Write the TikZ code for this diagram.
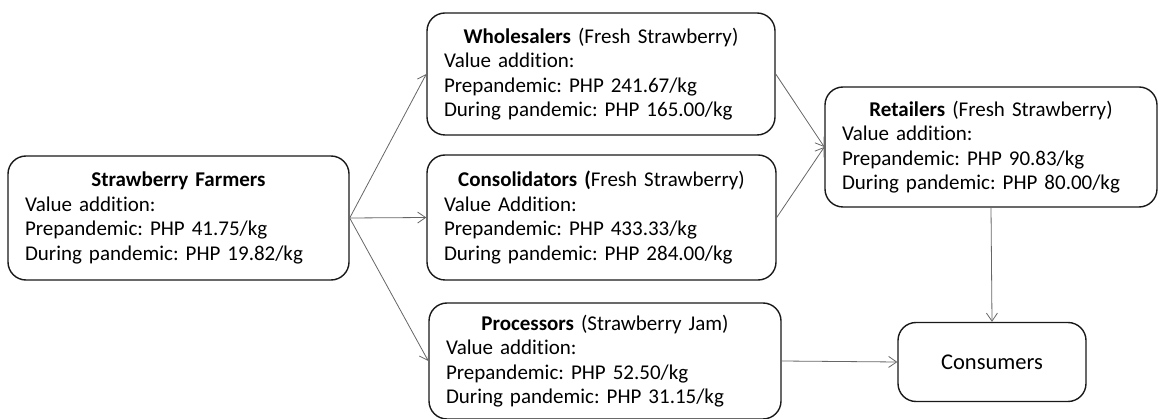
\documentclass[tikz,border=0pt]{standalone}
\usepackage{fontspec}
\setmainfont{Carlito}[Ligatures=NoCommon]
\usetikzlibrary{arrows.meta}
\frenchspacing
\newcommand{\ttl}[1]{\makebox[\linewidth][c]{#1}\\}
\begin{document}
\begin{tikzpicture}[x=1pt,y=-1pt,
  box/.style={draw=black!90, line width=1.4pt, rounded corners=18pt,
    align=left, inner xsep=17pt, inner ysep=0pt,
    font=\fontsize{21}{24.5}\selectfont},
  flow/.style={draw=black!60, line width=0.8pt,
    -{Straight Barb[length=8pt,width=11pt]}}]
\useasboundingbox (0,0) rectangle (1159,419);

% actors of the chain
\node[box, text width=307pt, minimum height=124pt] (farm) at (178.5,218)
  {\ttl{\textbf{Strawberry Farmers}}Value addition:\\Prepandemic: PHP 41.75/kg\\During pandemic: PHP 19.82/kg};
\node[box, text width=314pt, minimum height=122pt] (whole) at (601,74)
  {\ttl{\textbf{Wholesalers} (Fresh Strawberry)}Value addition:\\Prepandemic: PHP 241.67/kg\\During pandemic: PHP 165.00/kg};
\node[box, text width=315pt, minimum height=125pt] (cons) at (601.5,217.5)
  {\ttl{\textbf{Consolidators (}Fresh Strawberry)}Value Addition:\\Prepandemic: PHP 433.33/kg\\During pandemic: PHP 284.00/kg};
\node[box, text width=298pt, minimum height=120pt] (ret) at (991,147)
  {\ttl{\textbf{Retailers} (Fresh Strawberry)}Value addition:\\Prepandemic: PHP 90.83/kg\\During pandemic: PHP 80.00/kg};
\node[box, text width=318pt, minimum height=116pt] (proc) at (605,361)
  {\ttl{\textbf{Processors} (Strawberry Jam)}Value addition:\\Prepandemic: PHP 52.50/kg\\During pandemic: PHP 31.15/kg};
\node[box, align=center, text width=154pt, minimum height=79pt,
  font=\fontsize{22.5}{26}\selectfont] (cust) at (992,362)
  {Consumers};

% product flows
\draw[flow] (farm.east) -- (whole.west);
\draw[flow] (farm.east) -- (cons.west);
\draw[flow] (farm.east) -- (proc.west);
\draw[flow] (whole.east) -- (ret.west);
\draw[flow] (cons.east) -- (ret.west);
\draw[flow] (ret.south) -- (cust.north);
\draw[flow] (proc.east) -- (cust.west);
\end{tikzpicture}
\end{document}
